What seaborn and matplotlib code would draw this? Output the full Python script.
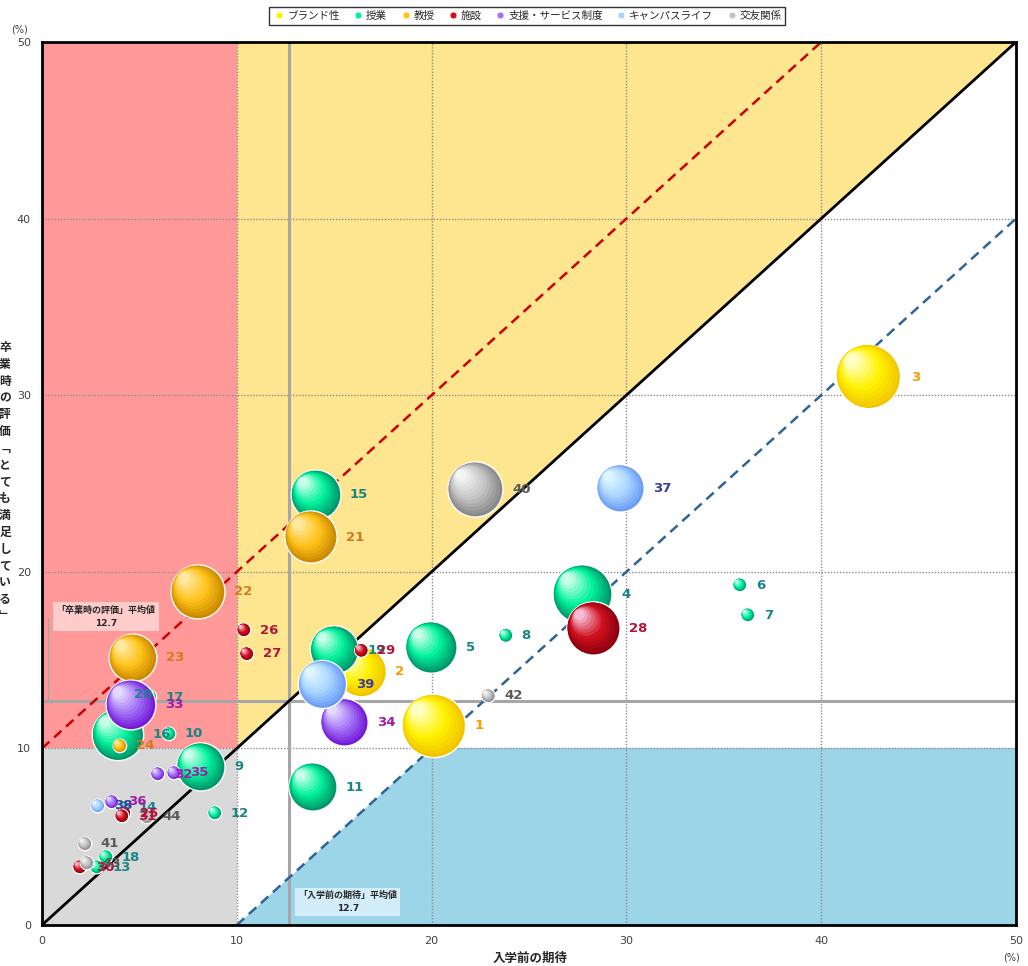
import numpy as np
import pandas as pd
import matplotlib
matplotlib.use("Agg")
import matplotlib.pyplot as plt
from matplotlib.lines import Line2D
from matplotlib.colors import to_rgb, to_hex
import seaborn as sns

# ---------------- data ----------------
categories = ["ブランド性", "授業", "教授", "施設", "支援・サービス制度", "キャンパスライフ", "交友関係"]
item_ids = list(range(1, 45))
item_category = (["ブランド性"] * 3 + ["授業"] * 17 + ["教授"] * 4 + ["施設"] * 7
                 + ["支援・サービス制度"] * 5 + ["キャンパスライフ"] * 3 + ["交友関係"] * 5)
expect_before = [20.12, 16.40, 42.45, 27.75, 19.99, 35.83, 36.24, 23.82, 8.16, 6.52,
                 13.91, 8.88, 2.82, 4.16, 14.07, 3.90, 5.54, 3.29, 15.02, 3.90,
                 13.81, 8.01, 4.67, 4.00, 4.21, 10.37, 10.52, 28.31, 16.40, 1.95,
                 4.11, 5.95, 4.57, 15.53, 6.78, 3.59, 29.70, 2.87, 14.40, 22.25,
                 2.21, 22.92, 2.31, 5.39]
eval_after = [11.27, 14.33, 31.03, 18.72, 15.71, 19.25, 17.55, 16.39, 8.95, 10.82,
              7.81, 6.34, 3.28, 6.63, 24.35, 10.76, 12.91, 3.85, 15.57, 13.08,
              21.97, 18.86, 15.12, 10.14, 6.34, 16.70, 15.35, 16.79, 15.54, 3.28,
              6.17, 8.55, 12.46, 11.47, 8.61, 6.97, 24.72, 6.74, 13.62, 24.66,
              4.59, 12.97, 3.51, 6.12]
bubble_size = [102, 62, 109, 87, 66, 4.5, 4.5, 4.5, 58, 4.5,
               58, 4.5, 4.5, 4.5, 62, 66, 4.5, 4.5, 58, 4.5,
               68, 73, 57, 4.5, 4.5, 4.5, 4.5, 71, 4.5, 4.5,
               4.5, 4.5, 62, 56, 4.5, 4.5, 56, 4.5, 58, 76,
               4.5, 4.5, 4.5, 4.5]
avg_expect = 12.7
avg_eval = 12.7
threshold = 10
axis_max = 50

# bubble shading stops per category: (dark, mid, light)
shade_stops = [("#F2C400", "#FFF200", "#FFFFC4"),
               ("#00956A", "#00F29C", "#C8FFE8"),
               ("#CC8A00", "#FFC21A", "#FFE8A0"),
               ("#8C0010", "#D0101E", "#F6BCD4"),
               ("#7418D8", "#A070F5", "#E4DAFF"),
               ("#6A9CF5", "#A8D4FF", "#DDF6FF"),
               ("#888888", "#C4C4C4", "#F4F4F4")]
label_colors = ["#FF9900", "#1A8585", "#D27A1E", "#B4123A", "#A11CA8", "#3B3BA0", "#5A5A5A"]

df = pd.DataFrame({"id": item_ids, "category": item_category,
                   "expect": expect_before, "eval": eval_after, "size": bubble_size})

# ---------------- figure ----------------
sns.set_style("white")
plt.rcParams["font.family"] = ["DejaVu Sans", "Noto Sans CJK JP"]

W, H = 1028, 966
AX_L, AX_R, AX_T, AX_B = 42, 1016, 42, 925
fig = plt.figure(figsize=(W / 100, H / 100), dpi=100)
ax = fig.add_axes([AX_L / W, 1 - AX_B / H, (AX_R - AX_L) / W, (AX_B - AX_T) / H])
ax.set_xlim(0, axis_max)
ax.set_ylim(0, axis_max)
px_x = axis_max / (AX_R - AX_L)   # data units per pixel
px_y = axis_max / (AX_B - AX_T)

# background zones
t, m = threshold, axis_max
ax.fill([0, t, t, 0], [t, t, m, m], color="#FF9999", zorder=0, lw=0)
ax.fill([0, t, t, 0], [0, 0, t, t], color="#D9D9D9", zorder=0, lw=0)
ax.fill([t, t, m], [t, m, m], color="#FDE68F", zorder=0, lw=0)
ax.fill([t, m, m, 2 * t], [0, 0, t, t], color="#9DD5E8", zorder=0, lw=0)

# grid
ticks = np.arange(0, axis_max + 1, 10)
for v in ticks[1:-1]:
    ax.axvline(v, color="#8C8C8C", lw=1, ls=(0, (1, 1.2)), zorder=1)
    ax.axhline(v, color="#8C8C8C", lw=1, ls=(0, (1, 1.2)), zorder=1)

# average lines
ax.axvline(avg_expect, color="#A6A6A6", lw=2.2, zorder=2)
ax.axhline(avg_eval, color="#A6A6A6", lw=2.2, zorder=2)

# diagonals
ax.plot([0, m], [0, m], color="black", lw=2, zorder=3)
ax.plot([0, m - t], [t, m], color="#CC0000", lw=1.8, ls=(0, (4, 2.5)), zorder=3)
ax.plot([t, m], [0, m - t], color="#2E6496", lw=1.8, ls=(0, (4, 2.5)), zorder=3)


# shaded bubbles: each bubble = stack of shrinking, lightening discs
def mix(a, b, f):
    a, b = np.array(to_rgb(a)), np.array(to_rgb(b))
    return to_hex(a + (b - a) * f)


def shade(stops, u):
    d, mi, l = stops
    return mix(d, mi, u / 0.45) if u < 0.45 else mix(mi, l, (u - 0.45) / 0.55)


N_LAYERS = 12
rows, palette, lws, ecs = [], {}, [], []
for _, r in df.iterrows():
    ci = categories.index(r["category"])
    rad = np.sqrt(r["size"] * 10)  # pixels
    for k in range(N_LAYERS):
        u = k / (N_LAYERS - 1)
        f = 1 - 0.8 * u
        shift = (rad - rad * f) * 0.92
        key = f"{ci}_{k}"
        palette[key] = shade(shade_stops[ci], u)
        rows.append({"x": r["expect"] - shift * 0.7071 * px_x,
                     "y": r["eval"] + shift * 0.7071 * px_y,
                     "s": r["size"] * f * f, "key": key})
        lws.append(1.0 if k == 0 else 0.0)
        ecs.append("white" if k == 0 else palette[key])
layers = pd.DataFrame(rows)

sns.scatterplot(data=layers, x="x", y="y", hue="key", palette=palette,
                size="s", sizes=(0, 2073.6), size_norm=(0, 100),
                linewidth=lws, edgecolor=ecs, legend=False, ax=ax, zorder=5)

cmap_label = dict(zip(categories, label_colors))
for _, r in df.iterrows():
    rad_px = np.sqrt(r["size"] * 10)
    ax.annotate(str(r["id"]), (r["expect"], r["eval"]),
                xytext=((rad_px + 9) * 0.72, 0), textcoords="offset points",
                ha="left", va="center", fontsize=9.5, fontweight="bold",
                color=cmap_label[r["category"]], zorder=10)

# ticks & spines
ax.set_xticks(ticks)
ax.set_yticks(ticks)
ax.tick_params(length=0, labelsize=8, colors="#404040", pad=8)
ax.set_xlabel("")
ax.set_ylabel("")
for s in ax.spines.values():
    s.set_color("black")
    s.set_linewidth(2)
    s.set_zorder(20)

# average annotation boxes
ax.plot([0.3, 0.3], [avg_eval, 17.4], color="#A6A6A6", lw=1, zorder=6)
ax.text(0.0657, 0.349, "「卒業時の評価」平均値\n12.7", transform=ax.transAxes,
        ha="center", va="center", fontsize=6.5, fontweight="bold", linespacing=1.6,
        bbox=dict(boxstyle="square,pad=0.35", fc="#FFCCCC", ec="none"), zorder=11)
ax.text(0.314, 0.026, "「入学前の期待」平均値\n12.7", transform=ax.transAxes,
        ha="center", va="center", fontsize=6.5, fontweight="bold", linespacing=1.6,
        bbox=dict(boxstyle="square,pad=0.35", fc="#D3EEF8", ec="none"), zorder=11)

# axis titles
fig.text(530 / W, 1 - 958 / H, "入学前の期待", ha="center", va="center",
         fontsize=9, fontweight="bold")
ylab = "卒業時の評価﹁とても満足している﹂"
fig.text(5 / W, 1 - 482 / H, "\n".join(ylab), ha="center", va="center",
         fontsize=8.5, fontweight="bold", linespacing=1.38)
fig.text(20 / W, 1 - 30 / H, "(%)", ha="center", va="center", fontsize=7, color="#404040")
fig.text(1011 / W, 1 - 957 / H, "(%)", ha="center", va="center", fontsize=7, color="#404040")

# legend
handles = [Line2D([0], [0], marker="o", ls="", markersize=5, markerfacecolor=st[1],
                  markeredgecolor="white", markeredgewidth=0.5) for st in shade_stops]
leg = fig.legend(handles, categories, loc="center", bbox_to_anchor=(527 / W, 1 - 16 / H),
                 ncol=7, fontsize=7.6, frameon=True, fancybox=False, edgecolor="black",
                 handletextpad=0.1, columnspacing=1.1, borderpad=0.35, handlelength=1.3)
leg.get_frame().set_linewidth(1)

fig.savefig("out.png", dpi=100)
